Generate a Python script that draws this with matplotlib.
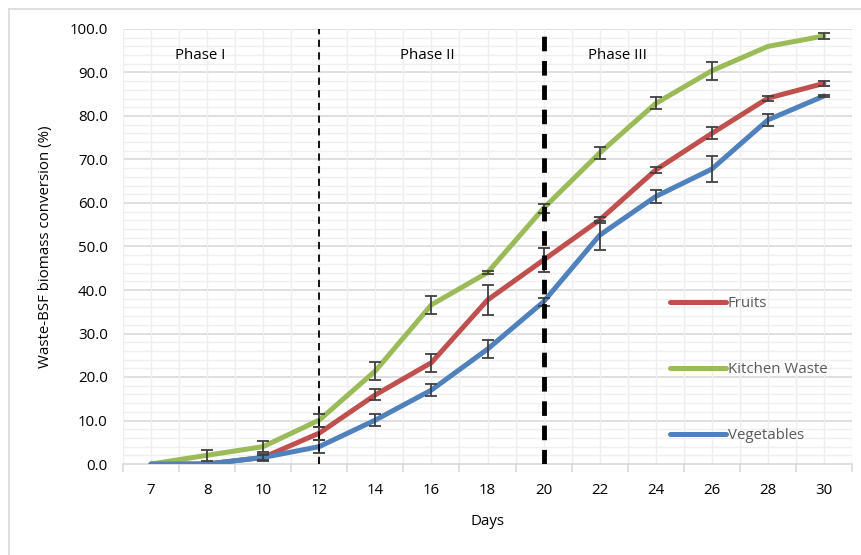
import matplotlib
matplotlib.use("Agg")
import matplotlib.pyplot as plt
from matplotlib.lines import Line2D
import numpy as np

days = ["7", "8", "10", "12", "14", "16", "18", "20", "22", "24", "26", "28", "30"]
fruits = [0.0, 0.0, 1.5, 7.1, 15.9, 23.3, 37.7, 46.9, 56.1, 67.6, 76.0, 84.1, 87.5]
fruits_err = [0.0, 0.0, 0.5, 1.5, 1.3, 2.1, 3.5, 2.8, 0.7, 0.7, 1.4, 0.6, 0.6]
kitchen = [0.0, 2.0, 4.0, 10.1, 21.4, 36.6, 44.0, 58.8, 71.5, 82.9, 90.4, 96.0, 98.4]
kitchen_err = [0.0, 1.2, 1.3, 1.5, 2.0, 2.1, 0.4, 1.0, 1.4, 1.4, 2.1, 0.0, 0.6]
vegetables = [0.0, 0.0, 1.5, 4.0, 10.1, 17.0, 26.4, 37.3, 52.6, 61.5, 67.8, 79.1, 84.6]
vegetables_err = [0.0, 0.0, 0.7, 1.5, 1.4, 1.4, 2.1, 0.9, 3.3, 1.4, 2.9, 1.3, 0.3]
series_names = ["Fruits", "Kitchen Waste", "Vegetables"]
colors = ["#C0504D", "#9BBB59", "#4F81BD"]
phase_labels = ["Phase I", "Phase II", "Phase III"]

plt.rcParams['font.family'] = ['Open Sans', 'DejaVu Sans']
FS = 10.8

W, H = 861, 555
fig = plt.figure(figsize=(W / 100, H / 100), dpi=100)
ax = fig.add_axes([123 / W, 1 - 464 / H, (852 - 123) / W, (464 - 29) / H])

x = np.arange(len(days))

# figure border (top and left)
fig.add_artist(Line2D([9 / W, 9 / W], [0, 1 - 9 / H], transform=fig.transFigure, color="#D9D9D9", lw=1.2))
fig.add_artist(Line2D([9 / W, 1], [1 - 9 / H, 1 - 9 / H], transform=fig.transFigure, color="#D9D9D9", lw=1.2))

# grid
ax.set_xlim(-0.5, len(days) - 0.5)
ax.set_ylim(0, 100)
ax.set_yticks(np.arange(0, 101, 10))
ax.set_yticks(np.arange(0, 101, 2), minor=True)
ax.set_xticks(x)
ax.set_xticks(np.arange(-0.5, len(days), 1.0), minor=True)
ax.set_xticklabels(days)
ax.set_yticklabels([f"{v:.1f}" for v in np.arange(0, 101, 10)])

for yv in np.arange(2, 101, 2):
    ax.axhline(yv, color="#D9D9D9" if yv % 10 == 0 else "#EFEFEF", lw=1.2 if yv % 10 == 0 else 1.0, zorder=0)
for xv in np.arange(-0.5, len(days), 0.5):
    ax.axvline(xv, color="#EFEFEF", lw=1.0, zorder=0)

for s in ["top", "right"]:
    ax.spines[s].set_visible(False)
ax.spines["left"].set_visible(False)
ax.spines["bottom"].set_color("#D9D9D9")
ax.spines["bottom"].set_linewidth(1.2)

ax.tick_params(axis="x", which="major", length=0, pad=14, labelsize=FS, labelcolor="#000000")
ax.tick_params(axis="x", which="minor", length=6, color="#D9D9D9", width=1.2)
ax.tick_params(axis="y", which="major", length=0, pad=11, labelsize=FS, labelcolor="#000000")
ax.tick_params(axis="y", which="minor", length=0)

data = [(fruits, fruits_err), (kitchen, kitchen_err), (vegetables, vegetables_err)]
for i, ((vals, errs), c, name) in enumerate(zip(data, colors, series_names)):
    ax.plot(x, vals, color=c, lw=3.6, solid_capstyle="round", solid_joinstyle="round", zorder=3 + i, label=name)
    e = np.array(errs)
    mask = e > 0
    ax.errorbar(x[mask], np.array(vals)[mask], yerr=e[mask], fmt="none", ecolor="#404040",
                elinewidth=1.3, capsize=4.3, capthick=1.3, zorder=6)

# phase dividers
ax.axvline(days.index("12"), color="black", lw=1.3, ls=(0, (4, 3)), zorder=7)
ax.axvline(days.index("20"), color="black", lw=3.5, ls=(0, (3, 2)), zorder=7)

ax.text(0.875, 94, phase_labels[0], fontsize=FS, ha="center", va="center")
ax.text(4.93, 94, phase_labels[1], fontsize=FS, ha="center", va="center")
ax.text(8.32, 94, phase_labels[2], fontsize=FS, ha="center", va="center")

ax.set_xlabel("Days", fontsize=FS, labelpad=11)
ax.set_ylabel("Waste-BSF biomass conversion (%)", fontsize=FS, labelpad=12)

leg = ax.legend(loc="upper left", bbox_to_anchor=((670 - 123) / (852 - 123), (464 - 296) / 435),
                frameon=False, fontsize=FS, handlelength=3.7, handletextpad=0.15,
                labelspacing=3.4, borderpad=0, borderaxespad=0)
for t in leg.get_texts():
    t.set_color("#595959")

fig.savefig("out.png", dpi=100)
